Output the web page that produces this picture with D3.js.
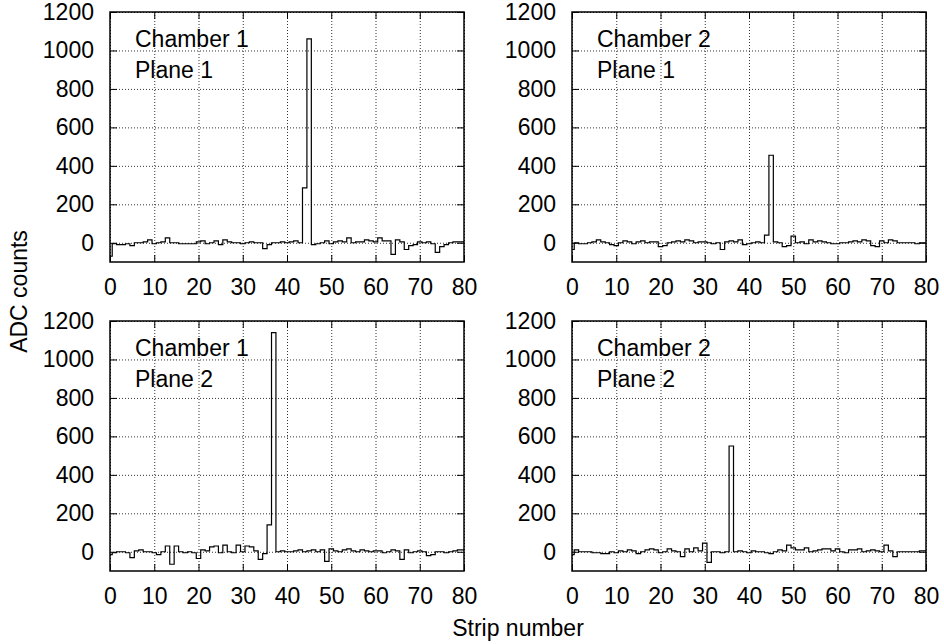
<!DOCTYPE html>
<html>
<head>
<meta charset="utf-8">
<script src="https://cdn.jsdelivr.net/npm/d3@7"></script>
<style>
    body { margin: 0; background: #ffffff; }
    svg { font-family: "Liberation Sans", Arial, sans-serif; }
</style>
</head>
<body>
<div id="grafico"></div>
<script>

// Números das fitas (strips) e marcas dos eixos
const strips = d3.range(0, 81)
const xTicks = [0, 10, 20, 30, 40, 50, 60, 70, 80]
const yTicks = [0, 200, 400, 600, 800, 1000, 1200]

// Contagens ADC, uma por fita
const chamber1Plane1 = [
    -70, -5, -10, -10, -5, -15, 0, 0, 5, 15,
    -5, 0, 5, 25, 0, 0, -5, -5, -5, -5,
    5, 10, -5, 0, 10, -10, 15, 5, 0, 0,
    -5, 0, 5, 0, 0, -30, -10, 0, 0, 5,
    0, 5, 10, 0, 285, 1060, -10, -5, 0, 10,
    -5, 5, 10, 5, 25, 0, 5, 5, 15, 10,
    5, 25, 10, 10, -60, 15, 5, -35, -15, -10,
    5, 0, 5, -5, -50, -20, -10, 0, 5, 5,
    5
]

const chamber2Plane1 = [
    -35, 0, -5, -5, 0, 5, 15, 5, 0, -10,
    -15, 0, 10, 5, -5, 5, 10, 0, 5, 5,
    -20, -15, 0, 5, 10, 5, 15, 10, 0, 5,
    5, 0, -5, 0, -35, 5, 10, 5, 15, -10,
    -5, 0, 5, 0, 40, 455, 5, 0, -20, -15,
    35, 0, 5, -5, 15, 5, 10, 5, 0, -5,
    -5, 0, 0, 5, 10, 5, 15, 10, -15, -20,
    10, 0, 15, 10, 0, 0, 0, 0, -5, 0,
    0
]

const chamber1Plane2 = [
    -15, -5, 0, 0, -5, -30, 5, 10, 0, 0,
    -5, -15, 0, 30, -65, 30, 0, -5, 0, -5,
    -35, 10, 5, 25, 30, -5, 35, 0, -5, 35,
    0, 30, 25, 5, -40, -10, 140, 1140, 0, 5,
    0, 0, 5, 10, 0, 5, 10, 0, 10, -50,
    15, 5, 0, 10, 15, 5, 0, 10, 5, 0,
    5, 5, -5, 0, 10, 5, -40, 10, -5, 0,
    5, 0, -20, -15, 0, 0, -5, 0, 5, 10,
    10
]

const chamber2Plane2 = [
    -15, 10, 0, 0, 0, -5, -5, -10, -10, 0,
    -5, 5, 0, 10, 5, -10, 0, 10, 15, 10,
    -5, 0, 15, 5, 0, -25, 15, 0, 20, 5,
    45, -55, 0, 0, -5, 0, 550, 0, 5, 0,
    -5, 5, 0, 0, -5, -10, 0, 10, 5, 35,
    20, 10, 10, 20, 0, 5, 10, 15, 15, 5,
    15, 0, -5, 10, 10, 15, 0, 5, 10, 5,
    0, 35, 5, -25, 0, 0, 0, 0, 0, 5,
    5
]

// Painéis (coluna, linha, textos)
const panels = [
    { col: 0, row: 0, chamber: "Chamber 1", plane: "Plane 1", values: chamber1Plane1 },
    { col: 1, row: 0, chamber: "Chamber 2", plane: "Plane 1", values: chamber2Plane1 },
    { col: 0, row: 1, chamber: "Chamber 1", plane: "Plane 2", values: chamber1Plane2 },
    { col: 1, row: 1, chamber: "Chamber 2", plane: "Plane 2", values: chamber2Plane2 }
]

// Configurações do gráfico
let width = 944
let height = 644
let panelWidth = 354
let panelHeight = 250
let panelLeft = [110, 572]
let panelTop = [12, 321]
let fontSize = 23

let svg = d3.select('#grafico').append('svg')
    .attr('width', width)
    .attr('height', height)

// Escalas comuns aos quatro painéis
let x = d3.scaleLinear().domain([0, 80]).range([0, panelWidth])
let y = d3.scaleLinear().domain([-100, 1200]).range([panelHeight, 0])

// Histograma em degraus: cada fita ocupa [s - 0.5, s + 0.5], cortado em [0, 80]
let line = d3.line()
    .x(d => x(d[0]))
    .y(d => y(d[1]))
    .curve(d3.curveStepAfter)


function limpaEixo(g) {
    g.select('.domain').remove()
    g.attr('font-size', null).attr('font-family', null)
}


function graficarPainel(p, n) {

    let g = svg.append('g')
        .attr('transform', `translate(${panelLeft[p.col]}, ${panelTop[p.row]})`)

    // Linhas de grade pontilhadas
    g.append('g')
        .call(d3.axisLeft(y).tickValues(yTicks).tickSize(-panelWidth).tickFormat(''))
        .call(limpaEixo)
        .selectAll('line')
        .attr('stroke', '#333')
        .attr('stroke-dasharray', '1,2')

    g.append('g')
        .attr('transform', `translate(0, ${panelHeight})`)
        .call(d3.axisBottom(x).tickValues(xTicks).tickSize(-panelHeight).tickFormat(''))
        .call(limpaEixo)
        .selectAll('line')
        .attr('stroke', '#333')
        .attr('stroke-dasharray', '1,2')

    // Marcas internas nos quatro lados
    g.append('g')
        .call(d3.axisLeft(y).tickValues(yTicks).tickSize(-7).tickFormat(''))
        .call(limpaEixo)
    g.append('g')
        .attr('transform', `translate(${panelWidth}, 0)`)
        .call(d3.axisRight(y).tickValues(yTicks).tickSize(-7).tickFormat(''))
        .call(limpaEixo)
    g.append('g')
        .attr('transform', `translate(0, ${panelHeight})`)
        .call(d3.axisBottom(x).tickValues(xTicks).tickSize(-7).tickFormat(''))
        .call(limpaEixo)
    g.append('g')
        .call(d3.axisTop(x).tickValues(xTicks).tickSize(-7).tickFormat(''))
        .call(limpaEixo)

    // Rótulos dos eixos
    g.append('g')
        .call(d3.axisLeft(y).tickValues(yTicks).tickSize(0).tickPadding(16).tickFormat(d3.format('d')))
        .call(limpaEixo)
        .attr('font-size', fontSize)

    g.append('g')
        .attr('transform', `translate(0, ${panelHeight})`)
        .call(d3.axisBottom(x).tickValues(xTicks).tickSize(0).tickPadding(17).tickFormat(d3.format('d')))
        .call(limpaEixo)
        .attr('font-size', fontSize)

    // Textos do painel
    g.append('text')
        .attr('x', 25)
        .attr('y', 35)
        .attr('font-size', fontSize)
        .text(p.chamber)
    g.append('text')
        .attr('x', 25)
        .attr('y', 66)
        .attr('font-size', fontSize)
        .text(p.plane)

    // Pontos do histograma
    let pontos = strips.map((s, i) => [Math.max(s - 0.5, 0), p.values[i]])
    pontos.push([80, p.values[p.values.length - 1]])

    g.append('clipPath')
        .attr('id', `clip${n}`)
        .append('rect')
        .attr('width', panelWidth)
        .attr('height', panelHeight)

    g.append('path')
        .datum(pontos)
        .attr('clip-path', `url(#clip${n})`)
        .attr('d', line)
        .attr('fill', 'none')
        .attr('stroke', '#000')
        .attr('stroke-width', 1.2)

    // Moldura
    g.append('rect')
        .attr('width', panelWidth)
        .attr('height', panelHeight)
        .attr('fill', 'none')
        .attr('stroke', '#000')
        .attr('stroke-width', 1.5)
}

panels.forEach(graficarPainel)

// Títulos dos eixos
svg.append('text')
    .attr('transform', `translate(27, ${(panelTop[0] + panelTop[1] + panelHeight) / 2}) rotate(-90)`)
    .attr('text-anchor', 'middle')
    .attr('font-size', fontSize)
    .text('ADC counts')

svg.append('text')
    .attr('x', (panelLeft[0] + panelLeft[1] + panelWidth) / 2)
    .attr('y', 636)
    .attr('text-anchor', 'middle')
    .attr('font-size', fontSize)
    .text('Strip number')

</script>
</body>
</html>
